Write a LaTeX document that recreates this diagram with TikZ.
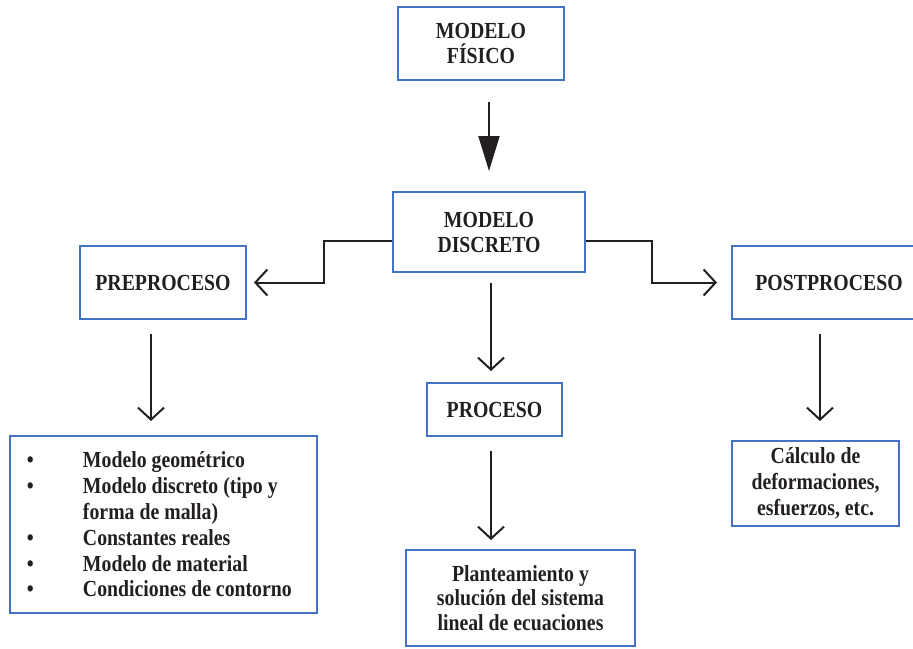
\documentclass[tikz,border=0pt]{standalone}
\usepackage{fontspec}
\setmainfont{Liberation Serif}[FakeStretch=0.86]
\usetikzlibrary{arrows.meta,calc}
\definecolor{boxblue}{HTML}{4472C4}
\definecolor{ink}{HTML}{231F20}
\tikzset{
  box/.style={draw=boxblue, line width=2pt, inner sep=0pt, align=center, text=ink},
  arr/.style={draw=ink, line width=2pt, -{Straight Barb[length=12pt,width=26pt]}},
  bigarr/.style={draw=ink, line width=2pt, -{Triangle[length=35pt,width=21pt]}, color=ink}
}
\newcommand{\bul}{\makebox[56pt][l]{•}}
\begin{document}
\begin{tikzpicture}[x=1pt,y=-1pt,font=\fontsize{23}{25}\selectfont\bfseries]
\useasboundingbox (0,0) rectangle (913,648);
\clip (0,0) rectangle (913,648);
\node[box, minimum width=166pt, minimum height=73pt] (fis) at (481,43.5) {MODELO\\FÍSICO};
\node[box, minimum width=192pt, minimum height=80pt] (disc) at (489,232) {MODELO\\DISCRETO};
\node[box, minimum width=166pt, minimum height=73pt] (pre) at (163,282.5) {PREPROCESO};
\node[box, minimum width=194pt, minimum height=73pt] (post) at (829,282.5) {POSTPROCESO};
\node[box, minimum width=135pt, minimum height=53pt] (proc) at (494.5,409.5) {PROCESO};
\node[box, minimum width=307pt, minimum height=177pt, text width=273pt, inner xsep=17pt, align=flush left,
      font=\fontsize{23}{25.8}\selectfont\bfseries] (lista) at (163.5,524.5)
  {\bul Modelo geométrico\\
   \bul Modelo discreto (tipo y\\
   \hspace*{56pt}forma de malla)\\
   \bul Constantes reales\\
   \bul Modelo de material\\
   \bul Condiciones de contorno};
\node[box, minimum width=167pt, minimum height=85pt, font=\fontsize{23}{26}\selectfont\bfseries] (calc) at (815.5,483.5) {Cálculo de\\deformaciones,\\esfuerzos, etc.};
\node[box, minimum width=229pt, minimum height=96pt, font=\fontsize{23}{24.5}\selectfont\bfseries] (plant) at (520.5,598) {Planteamiento y\\solución del sistema\\lineal de ecuaciones};
% connectors
\draw[bigarr, shorten <=21pt, shorten >=20pt] (fis.south -| disc.north) -- (disc.north);
\draw[arr, shorten >=7pt] ([yshift=-9pt]disc.west) -- ++(-68,0) |- (pre.east);
\draw[arr, shorten >=14pt] ([yshift=-9pt]disc.east) -- ++(66,0) |- (post.west);
\draw[arr, shorten <=10pt, shorten >=11pt] ([xshift=2pt]disc.south) -- ([xshift=2pt]disc.south |- proc.north);
\draw[arr, shorten <=14pt, shorten >=9pt] ([xshift=2pt]disc.south |- proc.south) -- ([xshift=2pt]disc.south |- plant.north);
\draw[arr, shorten <=14pt, shorten >=14pt] ([xshift=-12pt]pre.south) -- ([xshift=-12pt]pre.south |- lista.north);
\draw[arr, shorten <=14pt, shorten >=19pt] ([xshift=-9pt]post.south) -- ([xshift=-9pt]post.south |- calc.north);
\end{tikzpicture}
\end{document}
